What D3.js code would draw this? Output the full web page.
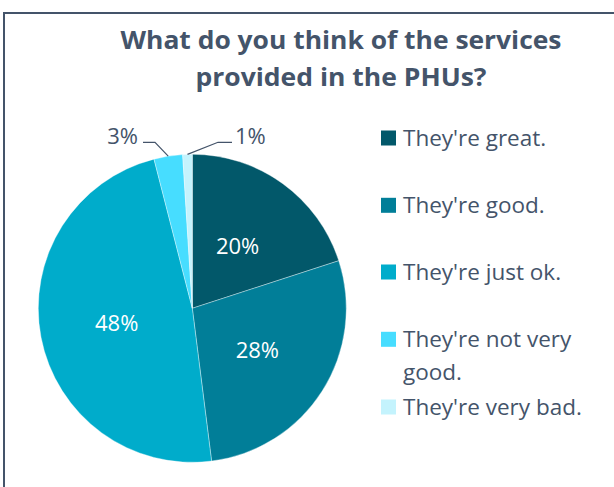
<!DOCTYPE html>
<html><head><meta charset="utf-8">
<script src="https://cdn.jsdelivr.net/npm/d3@7"></script>
<style>body{margin:0;background:#fff;overflow:hidden}</style></head>
<body>
<script>
const categories = ["They're great.", "They're good.", "They're just ok.", "They're not very good.", "They're very bad."];
const values = [20, 28, 48, 3, 1];
const colors = ["#02586A", "#017E98", "#00ACCB", "#47DDFF", "#C4F3FD"];
const titleLines = ["What do you think of the services", "provided in the PHUs?"];

const W = 614, H = 487;
const textColor = "#44546A";
const font = "'Open Sans', 'DejaVu Sans', sans-serif";

const svg = d3.select("body").append("svg").attr("width", W).attr("height", H)
  .style("font-family", font);

// chart border (extends beyond the viewport on right/bottom)
svg.append("rect").attr("x", 4).attr("y", 13).attr("width", 700).attr("height", 600)
  .attr("fill", "none").attr("stroke", textColor).attr("stroke-width", 2);

// title
const titleX = 341, titleY = [48.5, 85.5], titleW = [441, 291];
svg.selectAll("text.title").data(titleLines).join("text")
  .attr("class", "title")
  .attr("x", titleX).attr("y", (d, i) => titleY[i])
  .attr("text-anchor", "middle")
  .attr("fill", textColor).attr("font-weight", "bold").attr("font-size", 25.5)
  .attr("textLength", (d, i) => titleW[i]).attr("lengthAdjust", "spacingAndGlyphs")
  .text(d => d);

// pie
const cx = 192.3, cy = 308.3, R = 154;
const pie = d3.pie().sort(null).value(d => d.v);
const data = values.map((v, i) => ({ v, name: categories[i], color: colors[i], i }));
const arcs = pie(data);
const arc = d3.arc().innerRadius(0).outerRadius(R);
const labelArc = d3.arc().innerRadius(R * 0.5).outerRadius(R * 0.5);
const g = svg.append("g").attr("transform", `translate(${cx},${cy})`);
g.selectAll("path").data(arcs).join("path")
  .attr("d", arc).attr("fill", d => d.data.color)
  .attr("stroke", "#ffffff").attr("stroke-width", 0.6).attr("stroke-opacity", 0.6);

const fmt = d => d + "%";
// inside labels
g.selectAll("text.in").data(arcs.filter(d => d.data.v >= 5)).join("text")
  .attr("class", "in")
  .attr("x", d => labelArc.centroid(d)[0])
  .attr("y", d => labelArc.centroid(d)[1] + 8)
  .attr("text-anchor", "middle").attr("fill", "#ffffff").attr("font-size", 22)
  .text(d => fmt(d.data.v));

// outside labels with leader lines (layout in page coords)
const outsideLayout = {
  3: { elbow: [155, 142.3], end: [143, 142.3], tx: 138, anchor: "end" },
  4: { elbow: [218, 142.3], end: [232, 142.3], tx: 235, anchor: "start" }
};
const outerPt = d3.arc().innerRadius(R).outerRadius(R);
arcs.filter(d => d.data.v < 5).forEach(d => {
  const L = outsideLayout[d.index];
  const c = outerPt.centroid(d);
  const p0 = [cx + c[0], cy + c[1]];
  svg.append("polyline")
    .attr("points", [p0, L.elbow, L.end].map(p => p.join(",")).join(" "))
    .attr("fill", "none").attr("stroke", textColor).attr("stroke-width", 1.2);
  svg.append("text").attr("x", L.tx).attr("y", 143.5)
    .attr("text-anchor", L.anchor).attr("fill", textColor).attr("font-size", 22)
    .text(fmt(d.data.v));
});

// legend
const legX = 381, sq = 15, textX = 403, lineH = 33;
const baselines = [146, 213.3, 280, 347.3, 415];
const lg = svg.append("g");
data.forEach((d, i) => {
  lg.append("rect").attr("x", legX).attr("y", baselines[i] - 15.5).attr("width", sq).attr("height", sq)
    .attr("fill", d.color);
  const t = lg.append("text").attr("x", textX).attr("y", baselines[i])
    .attr("fill", textColor).attr("font-size", 22.5);
  // word wrap at max width
  const maxW = 200;
  const words = d.name.split(" ");
  let line = [];
  let ts = t.append("tspan").attr("x", textX);
  words.forEach(w => {
    line.push(w);
    ts.text(line.join(" "));
    if (ts.node().getComputedTextLength() > maxW && line.length > 1) {
      line.pop();
      ts.text(line.join(" "));
      line = [w];
      ts = t.append("tspan").attr("x", textX).attr("dy", lineH).text(w);
    }
  });
});
</script>
</body></html>
